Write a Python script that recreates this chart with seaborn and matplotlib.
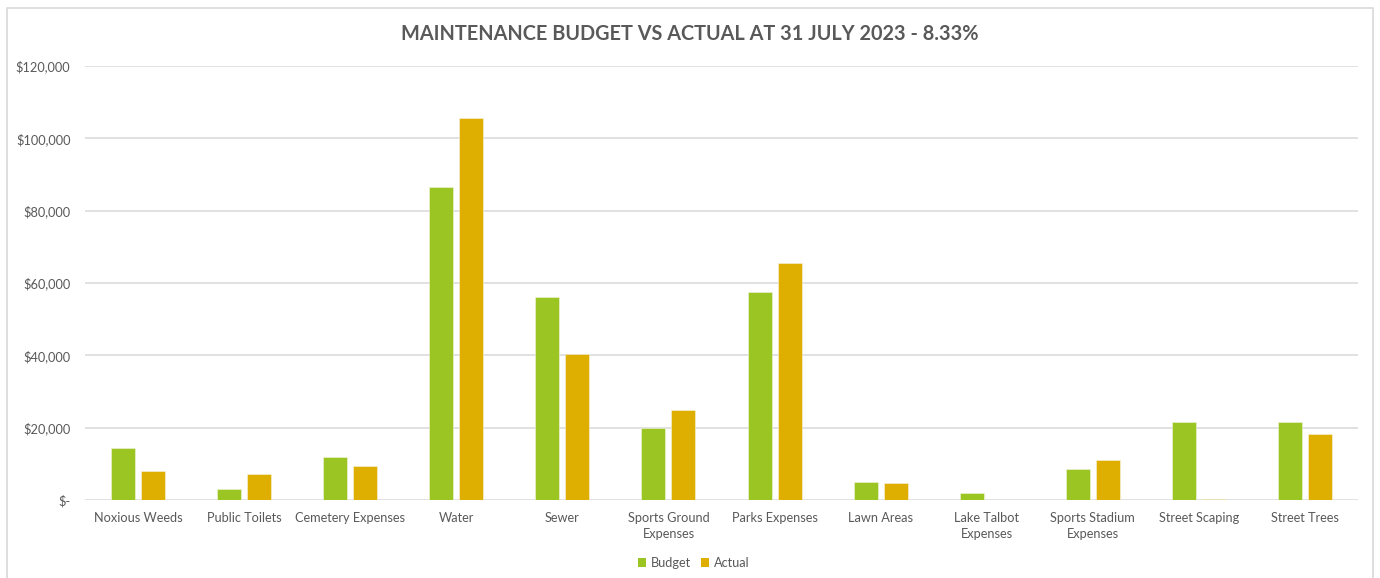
import matplotlib
matplotlib.use("Agg")
import matplotlib.pyplot as plt
from matplotlib.patches import Rectangle, Patch
from matplotlib.ticker import FuncFormatter, MultipleLocator
import seaborn as sns
import pandas as pd

# Maintenance cost centres
categories = [
    "Noxious Weeds", "Public Toilets", "Cemetery Expenses", "Water", "Sewer",
    "Sports Ground Expenses", "Parks Expenses", "Lawn Areas",
    "Lake Talbot Expenses", "Sports Stadium Expenses", "Street Scaping",
    "Street Trees",
]
tick_labels = [
    "Noxious Weeds", "Public Toilets", "Cemetery Expenses", "Water", "Sewer",
    "Sports Ground\nExpenses", "Parks Expenses", "Lawn Areas",
    "Lake Talbot\nExpenses", "Sports Stadium\nExpenses", "Street Scaping",
    "Street Trees",
]
budget = [14500, 3000, 11800, 86600, 56000, 19800, 57600, 5000, 1850, 8700, 21500, 21500]
actual = [8100, 7200, 9300, 105700, 40500, 25000, 65600, 4600, 0, 11000, 300, 18200]
series = ["Budget", "Actual"]
colors = ["#9BC523", "#DEAF00"]
title = "MAINTENANCE BUDGET VS ACTUAL AT 31 JULY 2023 - 8.33%"

df = pd.DataFrame({
    "Category": categories * 2,
    "Series": [series[0]] * len(categories) + [series[1]] * len(categories),
    "Value": budget + actual,
})

sns.set_theme(style="white")
plt.rcParams["font.family"] = ["Lato", "DejaVu Sans"]

W, H = 1380, 578
fig = plt.figure(figsize=(W / 100, H / 100), dpi=100)
ax = fig.add_axes([85 / W, 1 - 500 / H, (1358 - 85) / W, (500 - 66) / H])

sns.barplot(
    data=df, x="Category", y="Value", hue="Series", order=categories,
    hue_order=series, palette=colors, width=0.566, gap=0.2,
    edgecolor="#F4F4E0", linewidth=0.4, saturation=1, ax=ax, legend=False,
)

ax.set_ylim(0, 120000)
ax.set_xlim(-0.5, len(categories) - 0.5)
ax.yaxis.set_major_locator(MultipleLocator(20000))
ax.yaxis.set_major_formatter(FuncFormatter(lambda v, p: "$-" if v == 0 else f"${v:,.0f}"))
ax.grid(axis="y", color="#D9D9D9", linewidth=1.1)
ax.set_axisbelow(True)
for s in ax.spines.values():
    s.set_visible(False)
ax.set_xlabel("")
ax.set_ylabel("")
ax.set_xticks(range(len(categories)))
ax.set_xticklabels(tick_labels, fontsize=9.2, color="#595959", linespacing=1.35)
ax.tick_params(axis="x", length=0, pad=9)
ax.tick_params(axis="y", length=0, pad=10.5, labelsize=9.2, labelcolor="#595959")

fig.text(0.5, 1 - 34 / H, title, ha="center", va="center", fontsize=14.3,
         fontweight="bold", color="#595959")

handles = [Patch(facecolor=c, edgecolor="none") for c in colors]
fig.legend(handles, series, loc="center", bbox_to_anchor=(694 / W, 1 - 563 / H),
           ncol=2, frameon=False, fontsize=9.2, labelcolor="#595959",
           handlelength=0.6, handleheight=0.6, handletextpad=0.4, columnspacing=0.8)

# chart border
fig.patches.append(Rectangle((7 / W, -0.1), (1373 - 7) / W, 1.1 - 8.5 / H,
                             transform=fig.transFigure, fill=False,
                             edgecolor="#D9D9D9", linewidth=1.2))

fig.savefig("out.png", dpi=100, facecolor="white")
